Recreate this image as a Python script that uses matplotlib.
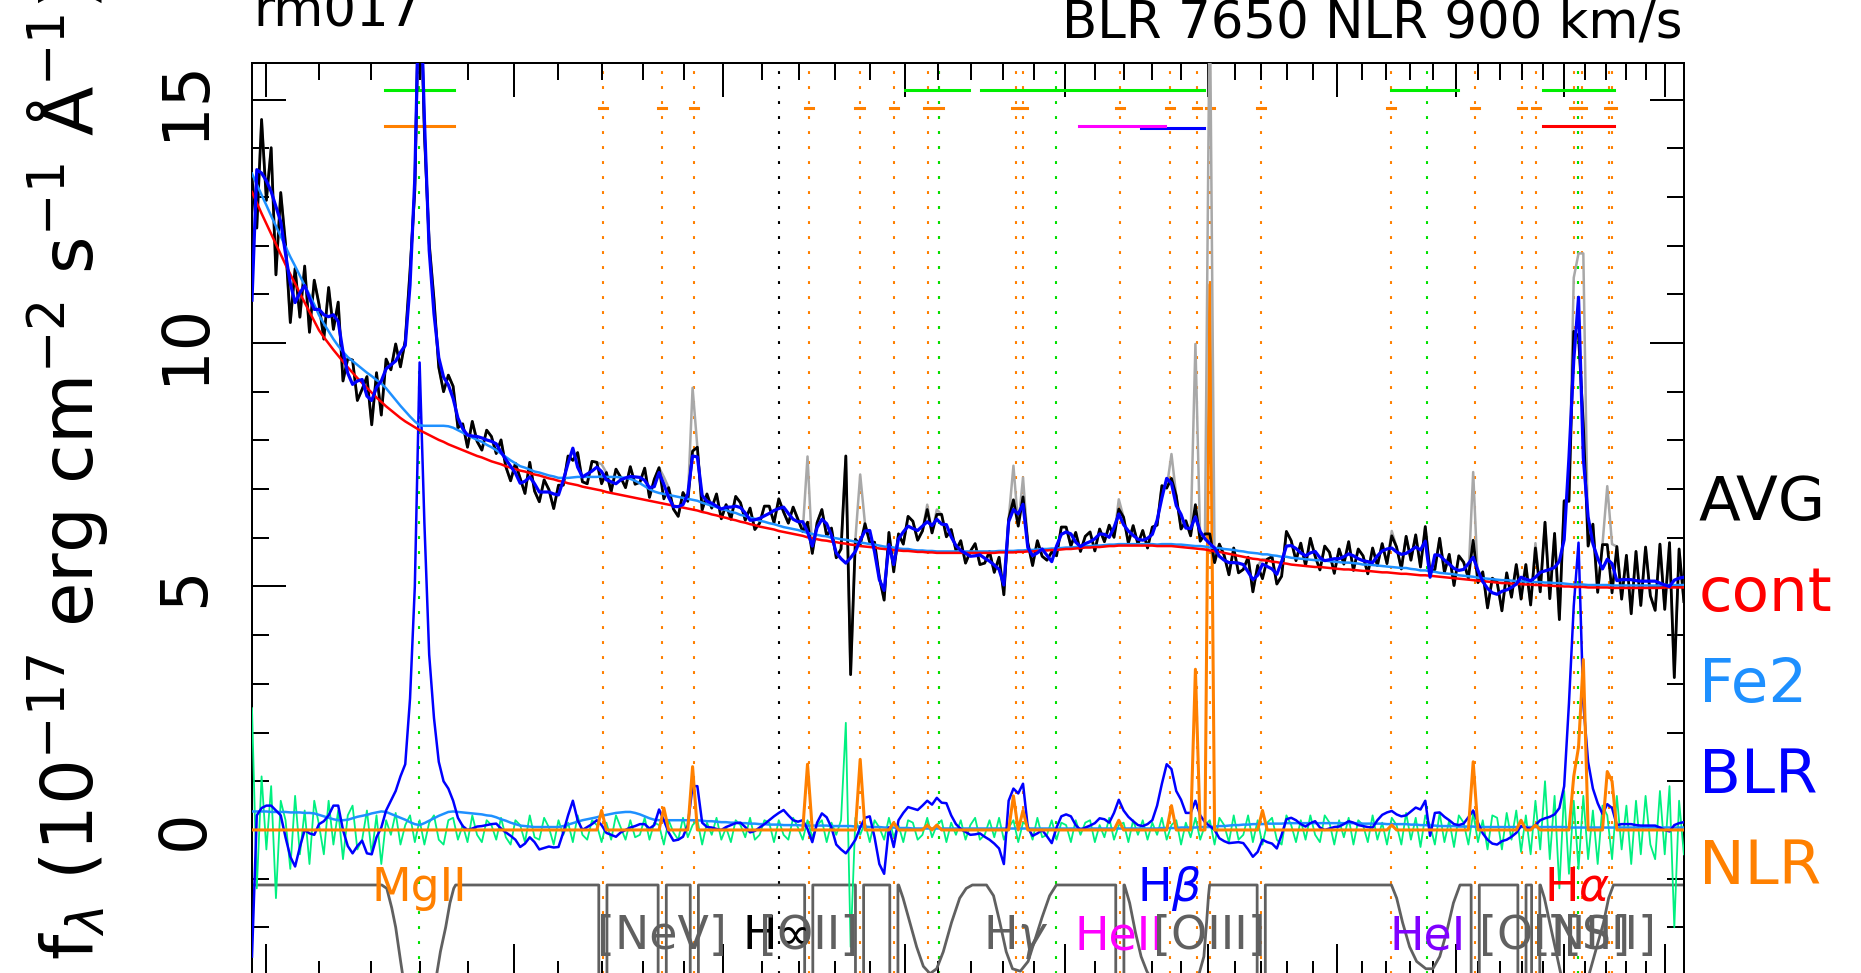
import numpy as np
import matplotlib.pyplot as plt
from matplotlib.ticker import FixedLocator, NullFormatter

plt.rcParams['font.family'] = ['DejaVu Sans']

# rest-frame log-lambda grid of the rebinned spectrum (Angstrom)
loglam = np.linspace(3.3934, 3.8511, 300)
wave = 10 ** loglam

# continuum (power law + host)
cont = np.array([
    13.10, 12.88, 12.66, 12.45, 12.24, 12.03, 11.82, 11.61, 11.41, 11.22,
    11.02, 10.83, 10.64, 10.45, 10.26, 10.12, 9.99, 9.86, 9.74, 9.62,
    9.50, 9.39, 9.28, 9.18, 9.08, 8.98, 8.88, 8.79, 8.70, 8.62,
    8.54, 8.46, 8.39, 8.33, 8.27, 8.21, 8.16, 8.11, 8.06, 8.01,
    7.97, 7.92, 7.88, 7.84, 7.80, 7.76, 7.72, 7.68, 7.65, 7.61,
    7.57, 7.54, 7.51, 7.47, 7.44, 7.41, 7.38, 7.36, 7.33, 7.30,
    7.28, 7.25, 7.22, 7.20, 7.17, 7.15, 7.12, 7.10, 7.08, 7.05,
    7.03, 7.01, 6.99, 6.97, 6.94, 6.92, 6.90, 6.88, 6.86, 6.84,
    6.82, 6.80, 6.78, 6.76, 6.74, 6.72, 6.70, 6.68, 6.66, 6.64,
    6.62, 6.60, 6.58, 6.56, 6.53, 6.51, 6.48, 6.46, 6.43, 6.41,
    6.38, 6.36, 6.33, 6.31, 6.28, 6.26, 6.23, 6.21, 6.19, 6.17,
    6.14, 6.12, 6.10, 6.08, 6.06, 6.04, 6.01, 5.99, 5.97, 5.95,
    5.94, 5.92, 5.91, 5.89, 5.88, 5.86, 5.85, 5.83, 5.82, 5.81,
    5.80, 5.78, 5.77, 5.76, 5.75, 5.74, 5.73, 5.73, 5.72, 5.71,
    5.71, 5.70, 5.70, 5.69, 5.69, 5.69, 5.69, 5.69, 5.69, 5.69,
    5.69, 5.69, 5.69, 5.69, 5.69, 5.69, 5.70, 5.70, 5.70, 5.70,
    5.71, 5.71, 5.72, 5.72, 5.73, 5.74, 5.74, 5.75, 5.75, 5.76,
    5.77, 5.77, 5.78, 5.79, 5.80, 5.80, 5.81, 5.81, 5.82, 5.83,
    5.83, 5.84, 5.84, 5.84, 5.84, 5.84, 5.84, 5.84, 5.84, 5.83,
    5.83, 5.83, 5.83, 5.82, 5.81, 5.80, 5.79, 5.78, 5.77, 5.76,
    5.74, 5.72, 5.71, 5.69, 5.67, 5.65, 5.63, 5.61, 5.59, 5.57,
    5.56, 5.54, 5.53, 5.51, 5.50, 5.48, 5.47, 5.45, 5.44, 5.43,
    5.42, 5.41, 5.40, 5.40, 5.39, 5.38, 5.37, 5.36, 5.35, 5.35,
    5.34, 5.33, 5.32, 5.32, 5.31, 5.30, 5.29, 5.29, 5.28, 5.27,
    5.26, 5.26, 5.25, 5.24, 5.23, 5.23, 5.22, 5.21, 5.20, 5.19,
    5.18, 5.17, 5.16, 5.15, 5.14, 5.13, 5.12, 5.11, 5.10, 5.09,
    5.08, 5.07, 5.07, 5.06, 5.05, 5.05, 5.04, 5.04, 5.03, 5.03,
    5.02, 5.02, 5.01, 5.01, 5.00, 5.00, 4.99, 4.99, 4.99, 4.98,
    4.98, 4.98, 4.98, 4.98, 4.97, 4.97, 4.97, 4.97, 4.97, 4.97,
    4.97, 4.97, 4.97, 4.97, 4.97, 4.98, 4.98, 4.98, 4.98, 4.98])

# FeII pseudo-continuum
fe2 = np.array([
    0.38, 0.38, 0.38, 0.38, 0.37, 0.37, 0.37, 0.37, 0.36, 0.36,
    0.36, 0.35, 0.35, 0.34, 0.31, 0.28, 0.25, 0.22, 0.20, 0.20,
    0.21, 0.24, 0.27, 0.29, 0.31, 0.34, 0.36, 0.38, 0.37, 0.33,
    0.29, 0.25, 0.21, 0.16, 0.12, 0.10, 0.14, 0.19, 0.24, 0.29,
    0.33, 0.37, 0.38, 0.37, 0.36, 0.35, 0.34, 0.33, 0.32, 0.30,
    0.29, 0.26, 0.22, 0.19, 0.15, 0.12, 0.09, 0.08, 0.07, 0.06,
    0.06, 0.06, 0.06, 0.06, 0.06, 0.08, 0.11, 0.14, 0.17, 0.20,
    0.22, 0.24, 0.26, 0.29, 0.31, 0.33, 0.35, 0.36, 0.37, 0.37,
    0.35, 0.32, 0.28, 0.24, 0.21, 0.20, 0.20, 0.20, 0.20, 0.20,
    0.20, 0.20, 0.20, 0.20, 0.19, 0.18, 0.18, 0.17, 0.16, 0.16,
    0.15, 0.15, 0.14, 0.14, 0.13, 0.13, 0.12, 0.12, 0.11, 0.11,
    0.11, 0.10, 0.10, 0.10, 0.10, 0.09, 0.09, 0.09, 0.09, 0.09,
    0.09, 0.08, 0.08, 0.08, 0.08, 0.08, 0.07, 0.07, 0.07, 0.06,
    0.06, 0.06, 0.05, 0.05, 0.05, 0.04, 0.04, 0.04, 0.03, 0.03,
    0.03, 0.03, 0.03, 0.03, 0.03, 0.03, 0.03, 0.03, 0.03, 0.03,
    0.03, 0.03, 0.03, 0.03, 0.03, 0.03, 0.03, 0.03, 0.03, 0.03,
    0.03, 0.03, 0.03, 0.03, 0.03, 0.03, 0.03, 0.03, 0.03, 0.03,
    0.03, 0.03, 0.03, 0.03, 0.03, 0.03, 0.03, 0.03, 0.03, 0.03,
    0.03, 0.03, 0.03, 0.03, 0.03, 0.03, 0.03, 0.03, 0.03, 0.03,
    0.04, 0.04, 0.04, 0.04, 0.05, 0.05, 0.05, 0.05, 0.06, 0.06,
    0.06, 0.07, 0.08, 0.08, 0.09, 0.10, 0.10, 0.11, 0.11, 0.12,
    0.12, 0.12, 0.13, 0.13, 0.13, 0.13, 0.14, 0.14, 0.14, 0.14,
    0.14, 0.14, 0.14, 0.14, 0.14, 0.14, 0.14, 0.14, 0.14, 0.14,
    0.14, 0.14, 0.13, 0.13, 0.13, 0.13, 0.13, 0.12, 0.12, 0.12,
    0.12, 0.12, 0.11, 0.11, 0.10, 0.10, 0.09, 0.09, 0.08, 0.08,
    0.08, 0.08, 0.07, 0.07, 0.07, 0.07, 0.06, 0.06, 0.06, 0.06,
    0.06, 0.06, 0.06, 0.06, 0.06, 0.06, 0.06, 0.06, 0.06, 0.06,
    0.06, 0.06, 0.06, 0.06, 0.06, 0.05, 0.05, 0.05, 0.05, 0.05,
    0.05, 0.05, 0.05, 0.05, 0.05, 0.05, 0.05, 0.05, 0.05, 0.05,
    0.05, 0.05, 0.05, 0.05, 0.05, 0.05, 0.05, 0.05, 0.05, 0.05])

# broad-line component
blr = np.array([
    -2.6, 0.3, 0.45, 0.5, 0.5, 0.4, 0.3, -0.15, -0.55, -0.75,
    -0.35, 0.0, -0.07, -0.1, 0.12, 0.18, 0.3, 0.5, 0.5, 0.0,
    -0.33, -0.48, -0.33, -0.22, -0.48, -0.5, -0.15, 0.05, 0.4, 0.6,
    0.8, 1.1, 1.35, 2.7, 5.0, 9.6, 6.3, 3.6, 2.3, 1.4,
    1.0, 0.85, 0.6, 0.25, 0.08, 0.0, 0.03, 0.07, 0.08, 0.1,
    0.12, 0.13, 0.03, -0.05, -0.12, -0.2, -0.35, -0.28, -0.15, -0.25,
    -0.4, -0.37, -0.34, -0.36, -0.35, -0.05, 0.3, 0.6, 0.2, 0.0,
    0.06, 0.12, 0.2, 0.1, -0.06, -0.1, -0.14, -0.05, 0.0, 0.05,
    0.08, 0.12, 0.12, 0.03, 0.1, 0.42, 0.2, -0.05, -0.22, -0.2,
    -0.14, 0.1, 0.9, 0.9, 0.15, 0.06, 0.05, 0.02, 0.0, 0.06,
    0.1, 0.14, 0.15, 0.06, -0.05, -0.02, 0.05, 0.12, 0.2, 0.28,
    0.35, 0.41, 0.3, 0.2, 0.17, 0.2, 0.02, -0.25, 0.15, 0.34,
    0.26, 0.05, -0.3, -0.4, -0.48, -0.35, -0.2, 0.05, 0.25, 0.28,
    -0.15, -0.7, -0.9, 0.05, -0.35, 0.2, 0.35, 0.47, 0.44, 0.41,
    0.5, 0.6, 0.52, 0.66, 0.56, 0.55, 0.3, 0.12, 0.02, -0.04,
    -0.1, -0.09, -0.07, -0.14, -0.2, -0.28, -0.38, -0.7, 0.6, 0.85,
    0.75, 0.95, 0.05, -0.12, -0.07, 0.0, -0.13, -0.27, 0.05, 0.28,
    0.32, 0.28, 0.1, 0.0, 0.05, 0.09, 0.14, 0.24, 0.22, 0.15,
    0.35, 0.62, 0.4, 0.27, 0.18, 0.1, 0.08, 0.12, 0.2, 0.5,
    0.95, 1.35, 1.25, 0.8, 0.62, 0.35, 0.35, 0.6, 0.3, 0.16,
    0.08, 0.0, -0.17, -0.23, -0.27, -0.26, -0.25, -0.27, -0.4, -0.55,
    -0.45, -0.2, -0.25, -0.28, -0.38, -0.1, 0.22, 0.25, 0.2, 0.12,
    0.07, 0.14, 0.18, 0.05, 0.0, 0.03, 0.06, 0.07, 0.12, 0.18,
    0.15, 0.1, 0.08, 0.06, 0.05, 0.2, 0.31, 0.36, 0.39, 0.32,
    0.28, 0.3, 0.38, 0.46, 0.42, 0.6, -0.12, 0.35, 0.36, 0.27,
    0.2, 0.12, 0.1, 0.13, 0.26, 0.4, 0.15, -0.07, -0.2, -0.28,
    -0.3, -0.23, -0.2, -0.14, -0.06, 0.08, 0.05, 0.02, 0.1, 0.2,
    0.24, 0.27, 0.32, 0.45, 0.9, 2.6, 4.6, 5.9, 2.6, 1.4,
    0.85, 0.55, 0.33, 0.53, 0.45, 0.1, 0.12, 0.12, 0.12, 0.1,
    0.09, 0.09, 0.09, 0.09, 0.05, 0.0, -0.03, 0.1, 0.14, 0.16])

# data minus model (green residual)
resid = np.array([
    2.5, -1.2, 1.1, -0.4, 0.9, -1.4, 0.6, 0.2, -0.8, 0.7,
    -0.5, 0.4, -0.7, 0.6, 0.1, -0.5, 0.6, -0.3, 0.4, -0.6,
    0.3, 0.5, -0.4, -0.2, 0.4, -0.5, 0.3, -0.7, 0.2, -0.1,
    0.35, -0.3, 0.1, 0.3, -0.25, 0.2, -0.3, 0.15, 0.3, -0.2,
    -0.3, 0.2, 0.25, -0.2, 0.1, -0.25, 0.3, -0.1, -0.25, 0.2,
    0.1, -0.2, 0.25, -0.15, -0.3, 0.2, 0.1, -0.25, 0.3, -0.15,
    -0.2, 0.25, 0.05, -0.3, 0.2, -0.1, 0.15, -0.25, 0.3, -0.1,
    -0.2, 0.2, 0.1, -0.25, 0.15, -0.2, 0.3, 0.05, -0.2, 0.2,
    -0.15, -0.1, 0.25, -0.2, 0.15, 0.1, -0.3, 0.2, -0.05, -0.2,
    0.25, -0.15, 0.1, 0.2, -0.3, 0.15, -0.1, 0.25, -0.2, 0.05,
    -0.25, 0.2, 0.1, -0.15, 0.25, -0.2, -0.1, 0.2, 0.15, -0.25,
    0.2, -0.1, -0.2, 0.25, 0.05, -0.2, 0.2, -0.15, 0.1, 0.2,
    -0.25, 0.15, -0.1, 0.2, 2.2, -2.4, 0.25, -0.1, 0.15, -0.25,
    0.2, 0.05, -0.2, 0.25, -0.15, 0.1, -0.25, 0.2, 0.15, -0.2,
    -0.1, 0.25, -0.15, 0.1, 0.2, -0.25, 0.15, -0.1, 0.2, -0.2,
    0.1, 0.25, -0.2, -0.1, 0.2, -0.15, 0.25, -0.2, 0.05, 0.2,
    -0.25, 0.15, 0.1, -0.2, 0.25, -0.15, -0.1, 0.2, -0.2, 0.15,
    0.1, -0.25, 0.2, -0.1, 0.15, 0.2, -0.25, 0.1, -0.15, 0.25,
    -0.2, 0.1, 0.15, -0.25, 0.2, -0.1, 0.2, -0.2, 0.15, -0.1,
    0.25, -0.2, 0.1, 0.2, -0.3, 0.15, -0.15, 0.25, -0.2, 0.1,
    0.2, -0.3, 0.25, 0.1, -0.25, 0.3, -0.2, -0.1, 0.3, -0.25,
    0.2, -0.3, 0.15, 0.25, -0.2, -0.3, 0.3, 0.1, -0.25, 0.2,
    -0.2, 0.3, -0.1, -0.25, 0.3, 0.15, -0.3, 0.2, -0.15, 0.25,
    -0.3, 0.2, 0.1, -0.25, 0.3, -0.2, 0.15, -0.3, 0.25, 0.1,
    -0.3, 0.35, -0.2, 0.25, -0.35, 0.3, 0.1, -0.3, 0.35, -0.25,
    0.2, -0.35, 0.3, 0.15, -0.3, 0.35, -0.25, 0.2, -0.4, 0.3,
    0.25, -0.4, 0.35, -0.2, 0.4, -0.45, 0.3, -0.5, 0.6, -0.4,
    1.0, -0.6, 0.7, -1.2, 0.8, -0.9, 0.6, -0.8, 0.7, -0.6,
    0.4, -0.7, 0.5, 0.3, -0.6, 0.7, -0.4, 0.5, -0.7, 0.6,
    -0.5, 0.7, -0.3, -0.6, 0.8, -0.5, 0.9, -2.0, 0.6, -0.5])

# narrow lines: rest wavelength and fitted peak
nlr_wave = [3203, 3346, 3426, 3727, 3869, 3968, 4070, 4102, 4340, 4363, 4686, 4861,
            4959, 5007, 5200, 5721, 6087, 6300, 6364, 6548, 6563, 6583, 6716, 6731]
nlr_peak = [0.4, 0.45, 1.3, 1.35, 1.45, 0.15, 0.1, 0.1, 0.7, 0.4, 0.2, 0.5,
            3.3, 11.2, 0.4, 0.1, 1.4, 0.2, 0.1, 1.1, 1.7, 3.5, 1.2, 1.0]
broad_wave = [2798, 4102, 4471, 5876, 6563]
balmer_limit = 3646

# fitting windows (top bars)
broad_windows = [(2728, 2871), (4000, 4195), (4230, 4985), (5720, 6010), (6400, 6740)]
comp_windows = [(2728, 2871, '#ff8000'), (4760, 4984, '#0000ff'),
                (4546, 4843, '#ff00ff'), (6400, 6740, '#ff0000')]

# line masks drawn at the bottom (wavelength, level)
mask_wells = [
    ([2722, 2732, 2742, 2750, 2760, 2766, 2780, 2820, 2832, 2842, 2853, 2862, 2870, 2874],
     [-1.13, -1.2, -1.6, -2.0, -2.7, -3.1, -3.5, -3.5, -3.1, -2.5, -2.0, -1.5, -1.2, -1.13]),
    ([3982, 3995, 4015, 4035, 4055, 4075, 4095, 4115, 4140, 4165, 4185, 4204],
     [-1.13, -1.4, -1.9, -2.4, -2.8, -2.95, -2.85, -2.5, -1.9, -1.4, -1.2, -1.13]),
    ([4248, 4270, 4290, 4310, 4330, 4355, 4380, 4400, 4425, 4450, 4472],
     [-1.13, -1.35, -1.9, -2.5, -2.85, -2.9, -2.7, -2.3, -1.8, -1.35, -1.13]),
    ([4702, 4720, 4740, 4760, 4780, 4800, 4960, 4985, 4995, 5002, 5006],
     [-1.13, -1.5, -2.1, -2.6, -2.9, -3.1, -3.1, -2.6, -1.9, -1.35, -1.13]),
    ([5723, 5745, 5770, 5800, 5830, 5870, 5900, 5930, 5960, 5990, 6019],
     [-1.13, -1.4, -1.9, -2.4, -2.7, -2.85, -2.85, -2.6, -2.1, -1.5, -1.13]),
    ([6386, 6405, 6430, 6460, 6490, 6520, 6580, 6610, 6650, 6690, 6715, 6739],
     [-1.13, -1.4, -1.9, -2.5, -3.1, -3.4, -3.4, -3.1, -2.5, -1.9, -1.4, -1.13]),
]
mask_level = -1.13

# line labels
lab_text = ['MgII', '[NeV]', 'H\u221e', '[OII]', r'H$\gamma$', 'HeII', r'H$\beta$',
            '[OIII]', 'HeI', '[OI]', '[NII]', '[SII]', r'H$\alpha$']
lab_wave = [2798, 3346, 3646, 3727, 4340, 4686, 4861, 5007, 5876, 6300, 6583, 6724, 6563]
lab_level = [-1.45, -2.45, -2.45, -2.45, -2.45, -2.45, -1.45, -2.45, -2.45, -2.45, -2.45, -2.45, -1.45]
lab_color = ['#ff8000', '#606060', 'black', '#606060', '#606060', '#ff00ff', '#0000ff',
             '#606060', '#8000ff', '#606060', '#606060', '#606060', '#ff0000']

legend_text = ['AVG', 'cont', 'Fe2', 'BLR', 'NLR']
legend_color = ['black', '#ff0000', '#1e90ff', '#0000ff', '#ff8000']

# ---- build the model pieces ----
nlr = np.zeros_like(wave)
for w, p in zip(nlr_wave, nlr_peak):
    nlr[np.abs(wave - w).argmin()] += p
model = cont + fe2 + blr
data = model + resid          # narrow lines removed
data_full = data + nlr

fig = plt.figure(figsize=(18.61, 9.73), dpi=100)
ax = fig.add_axes([252 / 1861, -5 / 973, 1432 / 1861, 915 / 973])
ax.set_xscale('log')
ax.set_xlim(2474, 7098)
ax.set_ylim(-3.04, 15.75)

dots = (0, (1.4, 5.8))
for w in nlr_wave:
    ax.axvline(w, color='#ff8000', lw=1.5, ls=dots, zorder=1)
for w in broad_wave:
    ax.axvline(w, color='#00e000', lw=1.5, ls=dots, zorder=1)
ax.axvline(balmer_limit, color='black', lw=1.5, ls=dots, zorder=1)

# top bars
for lo, hi in broad_windows:
    ax.plot([lo, hi], [15.19, 15.19], color='#00ee00', lw=2.2, zorder=3)
for w in nlr_wave:
    ax.plot([w * 0.997, w * 1.003], [14.82, 14.82], color='#ff8000', lw=2.2, zorder=3)
for lo, hi, c in comp_windows:
    yb = 14.42 if c == '#0000ff' else 14.45
    ax.plot([lo, hi], [yb, yb], color=c, lw=2.2, zorder=3)

# masks at the bottom
feats = []
for ww, vv in mask_wells:
    feats.append((ww[0], list(zip(ww, vv))))
for w in nlr_wave:
    if any(ww[0] - 10 < w < ww[-1] + 10 for ww, _ in mask_wells):
        continue
    lo, hi = w * 0.997, w * 1.003
    feats.append((lo, [(lo, mask_level), (lo, -4), (hi, -4), (hi, mask_level)]))
feats.sort(key=lambda f: f[0])
gx, gy = [wave[0]], [mask_level]
for _, pts in feats:
    for x, y in pts:
        gx.append(x)
        gy.append(y)
gx.append(wave[-1])
gy.append(mask_level)
ax.plot(gx, gy, color='#606060', lw=2.0, zorder=2)

# lower panel: components
ax.plot(wave, resid, color='#00f080', lw=1.3, zorder=3)
ax.plot(wave, fe2, color='#1e90ff', lw=1.8, zorder=4)
ax.plot(wave, blr, color='#0000ff', lw=1.8, zorder=5)
ax.plot(wave, nlr, color='#ff8000', lw=2.2, zorder=6)

# upper panel: data and model
ax.plot(wave, data_full, color='#a8a8a8', lw=1.8, zorder=6)
ax.plot(wave, data, color='black', lw=2.0, zorder=7)
ax.plot(wave, cont + fe2, color='#1e90ff', lw=1.8, zorder=8)
ax.plot(wave, cont, color='#ff0000', lw=1.8, zorder=8)
ax.plot(wave, model, color='#0000ff', lw=2.3, zorder=9)

for t, w, lv, c in zip(lab_text, lab_wave, lab_level, lab_color):
    ax.text(w, lv, t, color=c, fontsize=33, ha='center', va='baseline', zorder=10)

ax.xaxis.set_major_locator(FixedLocator(np.arange(2500, 7001, 500)))
ax.xaxis.set_minor_locator(FixedLocator(np.arange(2500, 7100, 100)))
ax.xaxis.set_major_formatter(NullFormatter())
ax.xaxis.set_minor_formatter(NullFormatter())
ax.set_yticks([0, 5, 10, 15])
ax.set_yticks(np.arange(-3, 16), minor=True)
ax.tick_params(which='both', direction='in', top=True, right=True, width=1.44,
               labelbottom=False, colors='black')
ax.tick_params(which='major', length=24.5)
ax.tick_params(which='minor', length=12.2)
ax.tick_params(axis='y', which='major', labelsize=46, pad=26, labelrotation=90)
for lab in ax.get_yticklabels():
    lab.set_verticalalignment('center')
for s in ax.spines.values():
    s.set_linewidth(1.44)

fig.text(68 / 1861, 13 / 973,
         r'f$_\lambda$ (10$^{-17}$ erg cm$^{-2}$ s$^{-1}$ Å$^{-1}$)',
         rotation=90, ha='center', va='bottom', fontsize=52)
fig.text(253 / 1861, 1 - 26.7 / 973, 'rm017', fontsize=37, ha='left', va='baseline')
fig.text(1683 / 1861, 1 - 38 / 973, 'BLR 7650 NLR 900 km/s', fontsize=37,
         ha='right', va='baseline')
for k, (t, c) in enumerate(zip(legend_text, legend_color)):
    fig.text(1699 / 1861, 1 - (520 + 91 * k) / 973, t, color=c, fontsize=44,
             ha='left', va='baseline')

fig.savefig('out.png', dpi=100)
